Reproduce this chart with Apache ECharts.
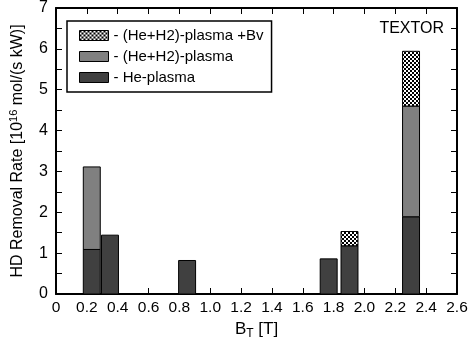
<!DOCTYPE html>
<html>
<head>
<meta charset="utf-8">
<script src="https://cdn.jsdelivr.net/npm/echarts@6/dist/echarts.min.js"></script>
<style>
  html, body { margin: 0; padding: 0; background: #fff; }
  #chart { width: 471px; height: 345px; }
</style>
</head>
<body>
<div id="chart"></div>
<script>
// magnetic field of each bar (T) and stacked parts (10^16 mol/(s kW))
const bField = [0.232, 0.35, 0.85, 1.768, 1.903, 2.302];
const hePlasma = [1.09, 1.44, 0.82, 0.86, 1.18, 1.89];
const heH2Extra = [2.02, 0, 0, 0, 0, 2.71];
const bvExtra = [0, 0, 0, 0, 0.35, 1.34];
const xTicks = [0, 0.2, 0.4, 0.6, 0.8, 1.0, 1.2, 1.4, 1.6, 1.8, 2.0, 2.2, 2.4, 2.6];

const BAR_W = 0.11;
const FONT = "Liberation Sans, Arial, sans-serif";

// checker hatch for the +Bv part
function hatch() {
  const c = document.createElement("canvas");
  c.width = 4; c.height = 4;
  const g = c.getContext("2d");
  g.fillStyle = "#fff";
  g.fillRect(0, 0, 4, 4);
  g.fillStyle = "#000";
  g.fillRect(0, 0, 2, 2);
  g.fillRect(2, 2, 2, 2);
  return { image: c, repeat: "repeat" };
}

// stack the parts into [x, bottom, top] rows
function segs(lower, part) {
  const out = [];
  bField.forEach((b, i) => {
    if (part[i] > 0) out.push([b, lower[i], lower[i] + part[i]]);
  });
  return out;
}
const zero = bField.map(() => 0);
const heTop = hePlasma.slice();
const h2Top = hePlasma.map((v, i) => v + heH2Extra[i]);

function renderBar(params, api) {
  const x = api.value(0);
  const p0 = api.coord([x - BAR_W / 2, api.value(2)]);
  const p1 = api.coord([x + BAR_W / 2, api.value(1)]);
  return {
    type: "rect",
    shape: { x: p0[0], y: p0[1], width: p1[0] - p0[0], height: p1[1] - p0[1] },
    style: api.style({ stroke: "#000", lineWidth: 1 })
  };
}

const chart = echarts.init(document.getElementById("chart"));
const axisBase = {
  axisLine: { show: true, onZero: false, lineStyle: { color: "#000", width: 2 } },
  axisTick: { show: true, inside: true, length: 6, lineStyle: { color: "#000", width: 1 } },
  splitLine: { show: false }
};

chart.setOption({
  animation: false,
  backgroundColor: "#fff",
  title: {
    text: "TEXTOR",
    right: 27,
    top: 21,
    padding: 0,
    textStyle: { fontFamily: FONT, fontSize: 16, fontWeight: "normal", color: "#000" }
  },
  legend: {
    orient: "vertical",
    left: 67,
    top: 21,
    padding: [7, 8, 7, 12],
    itemGap: 6,
    itemWidth: 29,
    itemHeight: 10,
    icon: "rect",
    backgroundColor: "#fff",
    borderColor: "#000",
    borderWidth: 1.5,
    borderRadius: 0,
    textStyle: { fontFamily: FONT, fontSize: 15, color: "#000" },
    itemStyle: { borderColor: "#000", borderWidth: 1 },
    data: ["- (He+H2)-plasma +Bv", "- (He+H2)-plasma", "- He-plasma"]
  },
  grid: { left: 54, right: 14, top: 7, bottom: 49 },
  xAxis: [
    Object.assign({}, axisBase, {
      type: "value",
      min: 0,
      max: 2.6,
      interval: 0.2,
      name: "B{sub|T} [T]",
      nameLocation: "middle",
      nameGap: 25,
      nameTextStyle: {
        fontFamily: FONT, fontSize: 17, color: "#000",
        rich: { sub: { fontFamily: FONT, fontSize: 12, color: "#000", padding: [9, 0, 0, 0] } }
      },
      axisLabel: {
        fontFamily: FONT, fontSize: 15.5, color: "#000", margin: 6,
        formatter: v => (v === 0 ? "0" : xTicks.find(t => Math.abs(t - v) < 1e-6).toFixed(1))
      }
    }),
    Object.assign({}, axisBase, {
      type: "value",
      position: "top",
      min: 0,
      max: 2.6,
      interval: 0.2,
      axisLabel: { show: false }
    })
  ],
  yAxis: [
    Object.assign({}, axisBase, {
      type: "value",
      min: 0,
      max: 7,
      interval: 1,
      minorTick: { show: true, splitNumber: 2, length: 6, lineStyle: { color: "#000", width: 1 } },
      name: "HD Removal Rate [10{sup|16} mol/(s kW)]",
      nameLocation: "middle",
      nameGap: 28,
      nameTextStyle: {
        fontFamily: FONT, fontSize: 16, color: "#000",
        rich: { sup: { fontFamily: FONT, fontSize: 11, color: "#000", padding: [0, 0, 9, 0] } }
      },
      axisLabel: { fontFamily: FONT, fontSize: 16, color: "#000", margin: 8 }
    }),
    Object.assign({}, axisBase, {
      type: "value",
      position: "right",
      min: 0,
      max: 7,
      interval: 1,
      minorTick: { show: true, splitNumber: 2, length: 6, lineStyle: { color: "#000", width: 1 } },
      axisLabel: { show: false }
    })
  ],
  series: [
    {
      name: "- He-plasma",
      type: "custom",
      renderItem: renderBar,
      itemStyle: { color: "#404040" },
      encode: { x: 0, y: [1, 2] },
      data: segs(zero, hePlasma)
    },
    {
      name: "- (He+H2)-plasma",
      type: "custom",
      renderItem: renderBar,
      itemStyle: { color: "#808080" },
      encode: { x: 0, y: [1, 2] },
      data: segs(heTop, heH2Extra)
    },
    {
      name: "- (He+H2)-plasma +Bv",
      type: "custom",
      renderItem: renderBar,
      itemStyle: { color: hatch() },
      encode: { x: 0, y: [1, 2] },
      data: segs(h2Top, bvExtra)
    }
  ]
});
</script>
</body>
</html>
